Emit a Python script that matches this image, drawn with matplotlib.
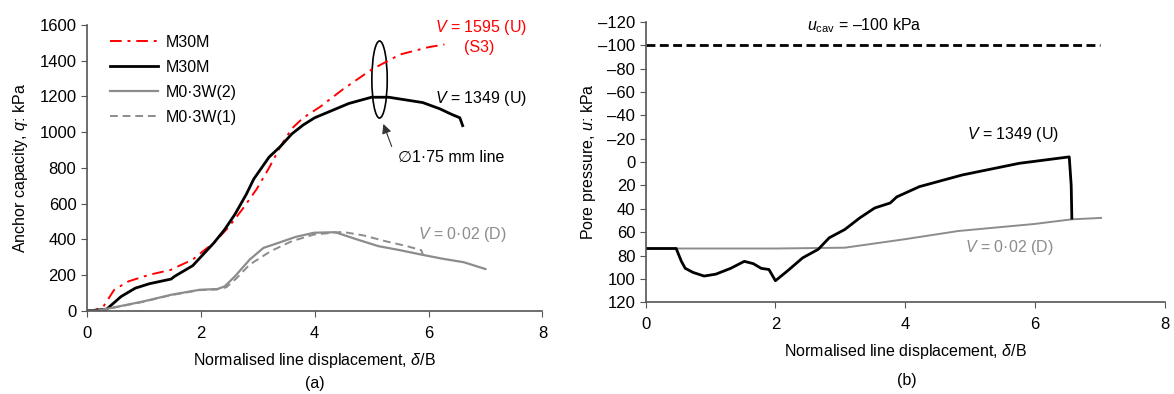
import numpy as np
import matplotlib
matplotlib.use("Agg")
import matplotlib.pyplot as plt
from matplotlib.patches import Ellipse

plt.rcParams['font.family'] = ['Liberation Sans', 'DejaVu Sans']
plt.rcParams['mathtext.fontset'] = 'custom'
plt.rcParams['mathtext.rm'] = 'Liberation Sans'
plt.rcParams['mathtext.it'] = 'Liberation Sans:italic'
plt.rcParams['font.size'] = 11.5

# (a) anchor capacity vs normalised displacement
red_x = [0, 0.15, 0.29, 0.48, 0.73, 1.1, 1.48, 1.6, 1.86, 2.04, 2.23, 2.48, 2.73, 2.98,
         3.2, 3.4, 3.6, 3.8, 4.1, 4.5, 5.0, 5.5, 6.0, 6.28]
red_q = [0, 5, 24, 118, 165, 202, 230, 249, 287, 334, 380, 465, 568, 680,
         800, 920, 1020, 1080, 1142, 1240, 1350, 1434, 1475, 1490]

blk_x = [0, 0.2, 0.35, 0.6, 0.85, 1.1, 1.48, 1.54, 1.86, 2.04, 2.23, 2.42, 2.6, 2.8, 2.93,
         3.2, 3.4, 3.6, 3.8, 4.0, 4.3, 4.6, 5.0, 5.3, 5.6, 5.9, 6.2, 6.4, 6.55, 6.6]
blk_q = [0, 5, 10, 80, 127, 152, 178, 193, 253, 315, 380, 455, 540, 652, 737,
         860, 920, 990, 1040, 1080, 1120, 1160, 1195, 1195, 1180, 1165, 1130, 1100, 1080, 1036]

g2_x = [0, 0.2, 0.41, 0.98, 1.48, 1.98, 2.29, 2.42, 2.6, 2.86, 3.1, 3.36, 3.67, 3.99,
        4.36, 4.74, 5.12, 5.49, 5.87, 6.24, 6.62, 7.0]
g2_q = [0, 2, 15, 52, 90, 118, 122, 137, 193, 287, 352, 380, 414, 437,
        440, 400, 362, 340, 315, 292, 272, 234]

g1_x = [0, 0.2, 0.41, 0.98, 1.48, 1.98, 2.29, 2.45, 2.62, 2.86, 3.23, 3.6, 3.99, 4.49,
        4.86, 5.24, 5.62, 5.87, 5.9]
g1_q = [0, 2, 14, 50, 88, 116, 120, 132, 180, 259, 334, 390, 427, 442,
        422, 390, 362, 340, 318]

# (b) pore pressure
u_x = [0, 0.47, 0.55, 0.61, 0.73, 0.9, 1.08, 1.31, 1.52, 1.66, 1.78, 1.9, 2.0, 2.19,
       2.42, 2.66, 2.83, 3.07, 3.3, 3.53, 3.77, 3.87, 4.22, 4.88, 5.76, 6.53, 6.56, 6.57]
u_kpa = [74, 74, 85, 91, 94.5, 97.6, 96, 91, 85, 87, 91, 92, 101.6, 93,
         82, 74.7, 64.8, 57.7, 47.8, 39.3, 35, 29.8, 21, 11, 1, -4.5, 20, 48]

ud_x = [0, 1.0, 2.0, 3.07, 4.0, 4.82, 5.99, 6.57, 7.02]
ud_kpa = [74, 74, 74, 73.3, 66, 59, 53, 49, 47.8]

ucav_x = [0, 7.0]
ucav = [-100, -100]

fig = plt.figure(figsize=(11.74, 3.94), dpi=100)
ax1 = fig.add_axes([0.074, 0.211, 0.388, 0.726])
ax2 = fig.add_axes([0.550, 0.233, 0.442, 0.711])

spine_c = '#555555'
for ax in (ax1, ax2):
    for s in ('top', 'right'):
        ax.spines[s].set_visible(False)
    for s in ('left', 'bottom'):
        ax.spines[s].set_color(spine_c)
        ax.spines[s].set_linewidth(1.2)
    ax.tick_params(direction='out', length=4, color=spine_c, labelsize=12)
    ax.tick_params(axis='x', pad=7)

# panel (a)
ax1.plot(red_x, red_q, color='red', ls=(0, (6, 3, 1.5, 3)), lw=1.4, label='M30M')
ax1.plot(blk_x, blk_q, color='black', lw=2.0, label='M30M')
ax1.plot(g2_x, g2_q, color='#8c8c8c', lw=1.6, label='M0·3W(2)')
ax1.plot(g1_x, g1_q, color='#8c8c8c', ls=(0, (4, 2.5)), lw=1.4, label='M0·3W(1)')
ax1.set_xlim(0, 8)
ax1.set_ylim(0, 1600)
ax1.set_xticks([0, 2, 4, 6, 8])
ax1.set_yticks(range(0, 1601, 200))
ax1.set_xlabel(r'Normalised line displacement, $\delta$/B', labelpad=7)
ax1.set_ylabel(r'Anchor capacity, $q$: kPa', labelpad=7)
ax1.legend(loc='upper left', bbox_to_anchor=(0.02, 1.015), frameon=False,
           handlelength=3.0, handletextpad=0.45, labelspacing=0.62, fontsize=11.5)

ax1.add_patch(Ellipse((5.14, 1294), 0.27, 431, fill=False, lw=1.2, color='black'))
ax1.annotate('', xy=(5.19, 1060), xytext=(5.37, 905),
             arrowprops=dict(arrowstyle='-|>', color='#333333', lw=0.8,
                             mutation_scale=14))
ax1.text(5.46, 857, '∅1·75 mm line', ha='left', va='center')
ax1.text(6.93, 1585, '$V$ = 1595 (U)', color='red', ha='center', va='center')
ax1.text(6.89, 1473, '(S3)', color='red', ha='center', va='center')
ax1.text(6.93, 1187, '$V$ = 1349 (U)', color='black', ha='center', va='center')
ax1.text(6.6, 426, '$V$ = 0·02 (D)', color='#8c8c8c', ha='center', va='center')
fig.text(0.268, 0.026, '(a)', ha='center', va='center')

# panel (b)
ax2.plot(ucav_x, ucav, color='black', ls=(0, (3.2, 1.6)), lw=2.0)
ax2.plot(ud_x, ud_kpa, color='#8c8c8c', lw=1.4)
ax2.plot(u_x, u_kpa, color='black', lw=2.0)
ax2.set_xlim(0, 8)
ax2.set_ylim(120, -120)
ax2.set_xticks([0, 2, 4, 6, 8])
ax2.set_yticks(range(-120, 121, 20))
ax2.set_yticklabels([str(v).replace('-', '–') for v in range(-120, 121, 20)])
ax2.set_xlabel(r'Normalised line displacement, $\delta$/B', labelpad=7)
ax2.set_ylabel(r'Pore pressure, $u$: kPa', labelpad=0)
ax2.text(3.37, -116.5, r'$u_{\mathrm{cav}}$ = –100 kPa', ha='center', va='center')
ax2.text(5.67, -24, '$V$ = 1349 (U)', ha='center', va='center')
ax2.text(5.61, 73, '$V$ = 0·02 (D)', color='#8c8c8c', ha='center', va='center')
fig.text(0.772, 0.034, '(b)', ha='center', va='center')

fig.savefig('out.png', dpi=100)
